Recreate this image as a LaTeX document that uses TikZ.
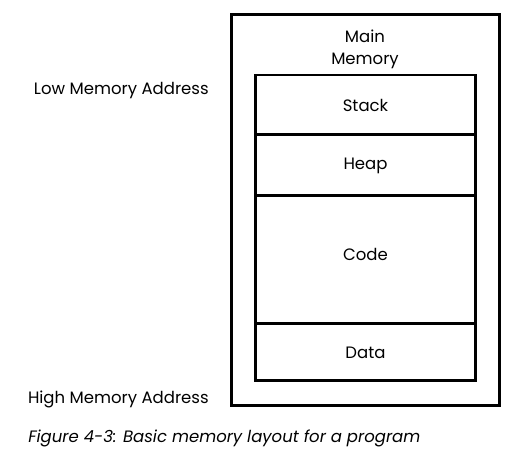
\documentclass[tikz,border=0pt]{standalone}
\usepackage{fontspec}
\setmainfont{Poppins}
\begin{document}
\begin{tikzpicture}[x=0.02cm, y=-0.02cm, font=\fontsize{9.4}{12.5}\selectfont,
    seg/.style={draw, line width=1.7pt, minimum width=4.42cm, inner sep=0pt}]
    \useasboundingbox (0,0) rectangle (532,455);
    \node[draw, line width=1.7pt, minimum width=5.38cm, minimum height=7.84cm] (mainmem) at (365.5,210) {};
    \node[align=center] (title) at (365,49) {Main\\Memory};
    \node[seg, minimum height=1.2cm] (stack) at (365.5,105) {Stack};
    \node[seg, minimum height=1.22cm] (heap) at (365.5,165.5) {Heap};
    \node[seg, minimum height=2.56cm, label={[yshift=0.12cm]center:Code}] (code) at (365.5,260) {};
    \node[seg, minimum height=1.14cm] (data) at (365.5,352.5) {Data};
    \node[anchor=east, inner sep=0pt] (low) at (209,91) {Low Memory Address};
    \node[anchor=east, inner sep=0pt] (high) at (209,399) {High Memory Address};
    \node[anchor=west, inner sep=0pt, font=\fontsize{9.4}{12.5}\selectfont\itshape] (caption) at (28,438) {Figure 4-3: Basic memory layout for a program};
\end{tikzpicture}
\end{document}
